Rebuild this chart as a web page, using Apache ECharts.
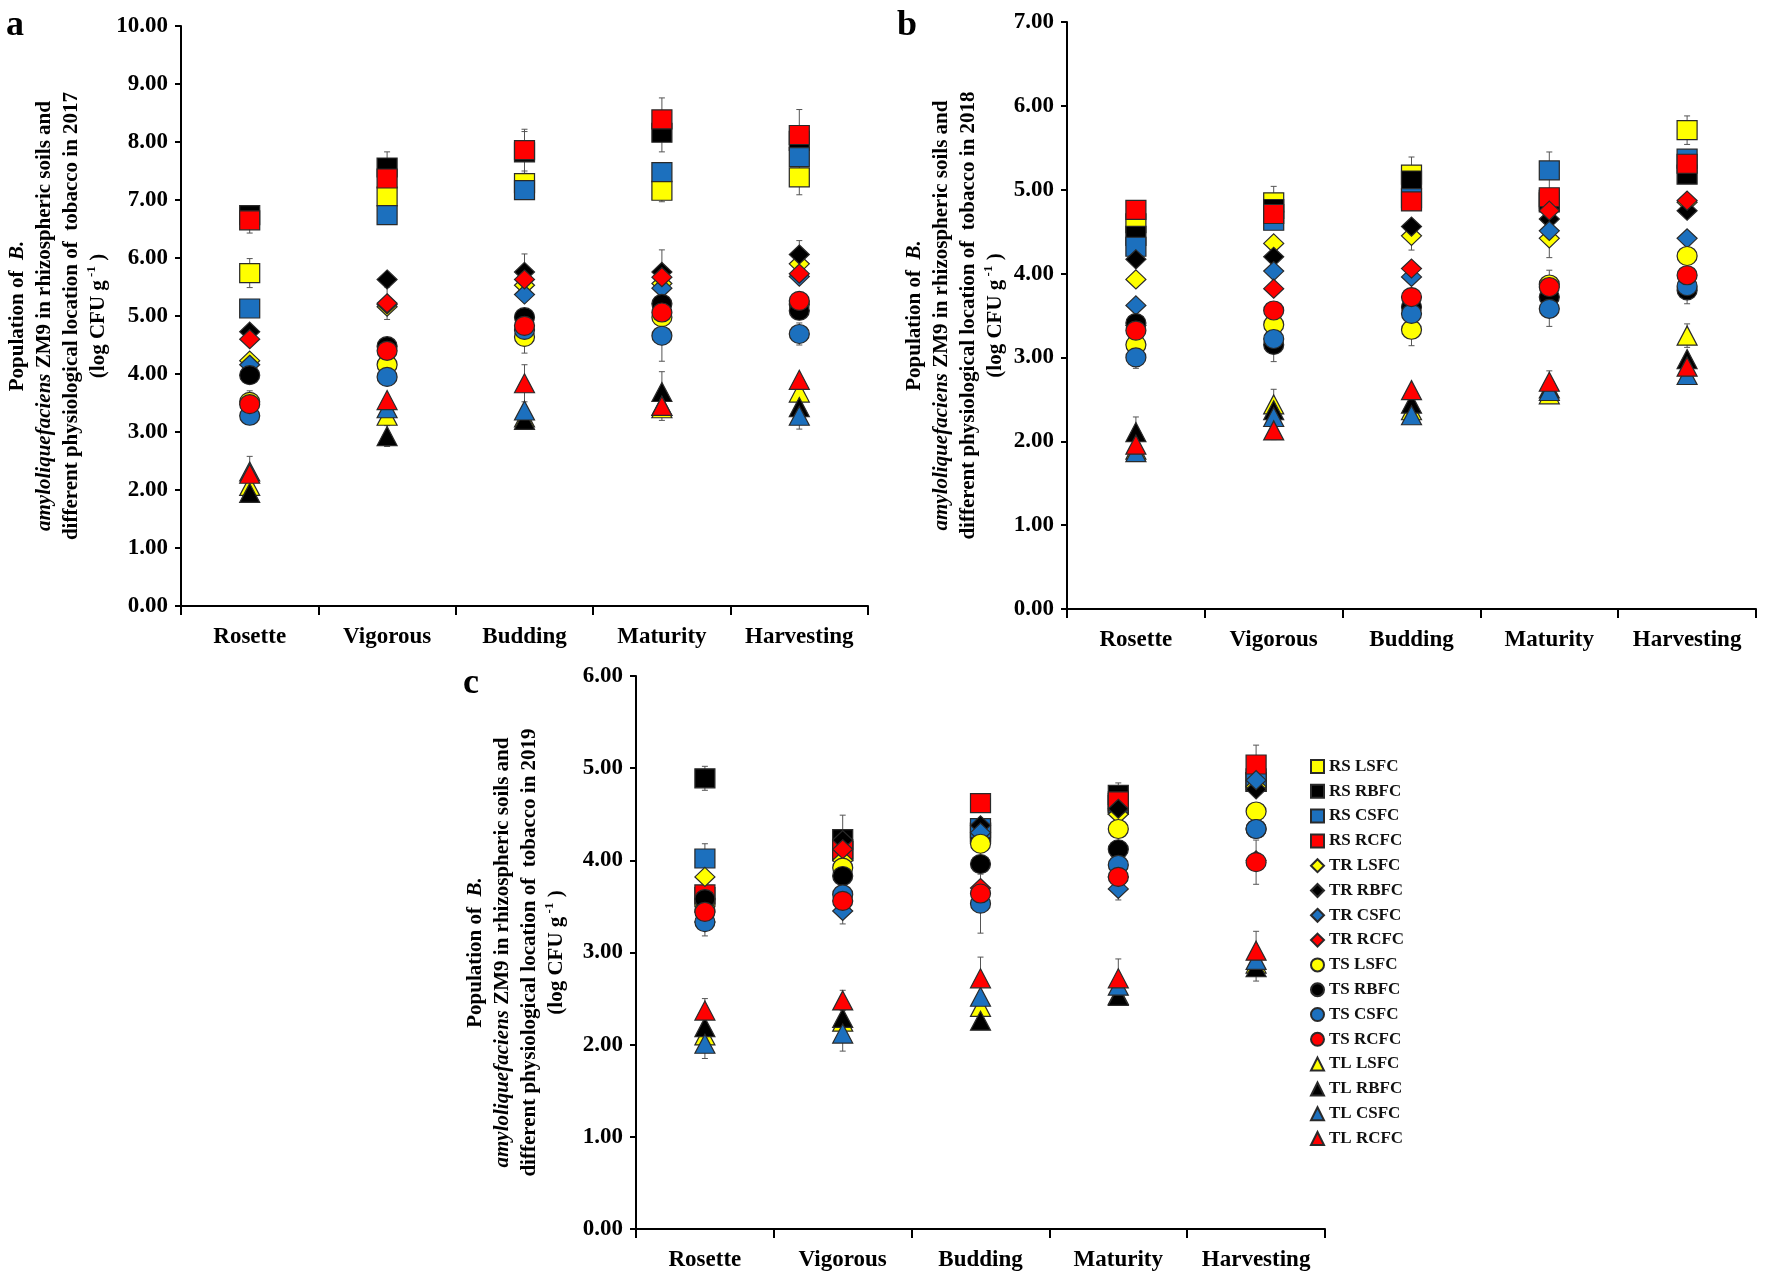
<!DOCTYPE html>
<html><head><meta charset="utf-8">
<script src="https://cdn.jsdelivr.net/npm/echarts@6/dist/echarts.min.js"></script>
<style>html,body{margin:0;padding:0;background:#fff}#chart{width:1770px;height:1283px}</style>
</head><body><div id="chart"></div>
<script>
// ---------- data ----------
const categories = ['Rosette', 'Vigorous', 'Budding', 'Maturity', 'Harvesting'];
const seriesNames = ['RS LSFC','RS RBFC','RS CSFC','RS RCFC','TR LSFC','TR RBFC','TR CSFC','TR RCFC',
                     'TS LSFC','TS RBFC','TS CSFC','TS RCFC','TL LSFC','TL RBFC','TL CSFC','TL RCFC'];
const yTickMax = [10, 7, 6];
const years = ['2017', '2018', '2019'];

// 2017 (panel a)
const RS_LSFC_2017 = [5.74, 7.06, 7.29, 7.16, 7.39];
const RS_RBFC_2017 = [6.74, 7.56, 7.82, 8.16, 8.02];
const RS_CSFC_2017 = [5.13, 6.74, 7.17, 7.48, 7.74];
const RS_RCFC_2017 = [6.65, 7.37, 7.86, 8.39, 8.12];
const TR_LSFC_2017 = [4.23, 5.16, 5.53, 5.56, 5.90];
const TR_RBFC_2017 = [4.73, 5.63, 5.76, 5.76, 6.06];
const TR_CSFC_2017 = [4.16, 5.20, 5.37, 5.48, 5.68];
const TR_RCFC_2017 = [4.60, 5.22, 5.63, 5.67, 5.73];
const TS_LSFC_2017 = [3.52, 4.16, 4.64, 4.98, 5.20];
const TS_RBFC_2017 = [3.98, 4.48, 4.98, 5.21, 5.09];
const TS_CSFC_2017 = [3.28, 3.95, 4.76, 4.66, 4.69];
const TS_RCFC_2017 = [3.48, 4.40, 4.83, 5.06, 5.26];
const TL_LSFC_2017 = [2.07, 3.28, 3.25, 3.41, 3.68];
const TL_RBFC_2017 = [1.95, 2.93, 3.21, 3.69, 3.43];
const TL_CSFC_2017 = [2.32, 3.41, 3.37, 3.45, 3.28];
const TL_RCFC_2017 = [2.28, 3.55, 3.84, 3.45, 3.90];

// 2018 (panel b)
const RS_LSFC_2018 = [4.60, 4.85, 5.18, 4.85, 5.71];
const RS_RBFC_2018 = [4.45, 4.77, 5.11, 4.88, 5.18];
const RS_CSFC_2018 = [4.32, 4.63, 4.90, 5.23, 5.37];
const RS_RCFC_2018 = [4.76, 4.71, 4.86, 4.91, 5.31];
const TR_LSFC_2018 = [3.93, 4.36, 4.45, 4.42, 4.85];
const TR_RBFC_2018 = [4.17, 4.20, 4.56, 4.65, 4.75];
const TR_CSFC_2018 = [3.62, 4.03, 3.96, 4.51, 4.42];
const TR_RCFC_2018 = [3.38, 3.82, 4.06, 4.75, 4.87];
const TS_LSFC_2018 = [3.15, 3.39, 3.33, 3.87, 4.21];
const TS_RBFC_2018 = [3.41, 3.15, 3.60, 3.72, 3.80];
const TS_CSFC_2018 = [3.00, 3.22, 3.52, 3.58, 3.85];
const TS_RCFC_2018 = [3.32, 3.56, 3.72, 3.84, 3.98];
const TL_LSFC_2018 = [1.90, 2.44, 2.37, 2.56, 3.26];
const TL_RBFC_2018 = [2.11, 2.37, 2.45, 2.63, 2.98];
const TL_CSFC_2018 = [1.87, 2.29, 2.31, 2.60, 2.79];
const TL_RCFC_2018 = [1.96, 2.13, 2.61, 2.71, 2.89];

// 2019 (panel c)
const RS_LSFC_2019 = [3.60, 4.10, 4.30, 4.60, 4.85];
const RS_RBFC_2019 = [4.89, 4.23, 4.30, 4.71, 4.85];
const RS_CSFC_2019 = [4.02, 4.10, 4.35, 4.62, 4.89];
const RS_RCFC_2019 = [3.63, 4.12, 4.62, 4.64, 5.04];
const TR_LSFC_2019 = [3.82, 4.00, 4.18, 4.50, 4.80];
const TR_RBFC_2019 = [3.58, 4.22, 4.38, 4.56, 4.77];
const TR_CSFC_2019 = [3.33, 3.45, 4.30, 3.69, 4.87];
const TR_RCFC_2019 = [3.44, 4.12, 3.70, 3.82, 4.00];
const TS_LSFC_2019 = [3.46, 3.92, 4.18, 4.34, 4.53];
const TS_RBFC_2019 = [3.58, 3.83, 3.96, 4.12, 4.34];
const TS_CSFC_2019 = [3.33, 3.63, 3.53, 3.95, 4.34];
const TS_RCFC_2019 = [3.44, 3.56, 3.64, 3.82, 3.98];
const TL_LSFC_2019 = [2.10, 2.25, 2.41, 2.54, 2.88];
const TL_RBFC_2019 = [2.19, 2.29, 2.26, 2.53, 2.84];
const TL_CSFC_2019 = [2.01, 2.12, 2.52, 2.64, 2.92];
const TL_RCFC_2019 = [2.37, 2.48, 2.72, 2.72, 3.02];

// standard errors that show as whiskers: [series, category index, error]
const errors2017 = [
  ['RS RCFC',0,0.22],['RS LSFC',0,0.25],['TL RCFC',0,0.30],['TS LSFC',0,0.19],
  ['RS RBFC',1,0.27],['TR RCFC',1,0.28],['TL RBFC',1,0.18],
  ['RS RCFC',2,0.36],['RS RBFC',2,0.36],['TR RBFC',2,0.31],['TS LSFC',2,0.28],['TL RCFC',2,0.32],
  ['RS RCFC',3,0.37],['RS RBFC',3,0.33],['RS LSFC',3,0.19],['TR RBFC',3,0.38],['TS CSFC',3,0.44],['TL RBFC',3,0.35],['TL LSFC',3,0.21],
  ['RS RCFC',4,0.44],['RS LSFC',4,0.30],['TR RBFC',4,0.24],['TS CSFC',4,0.19],['TL CSFC',4,0.23]
];
const errors2018 = [
  ['TS CSFC',0,0.13],['TL RBFC',0,0.18],
  ['RS LSFC',1,0.19],['TS RBFC',1,0.20],['TL LSFC',1,0.18],['TL RCFC',1,0.11],
  ['RS LSFC',2,0.21],['TR LSFC',2,0.17],['TS LSFC',2,0.19],
  ['RS CSFC',3,0.22],['TR LSFC',3,0.23],['TS LSFC',3,0.17],['TS CSFC',3,0.21],['TL RCFC',3,0.13],
  ['RS LSFC',4,0.17],['TS RBFC',4,0.16],['TL LSFC',4,0.14]
];
const errors2019 = [
  ['RS RBFC',0,0.13],['RS CSFC',0,0.16],['TS CSFC',0,0.15],['TL RCFC',0,0.13],['TL CSFC',0,0.16],
  ['RS RBFC',1,0.26],['TR CSFC',1,0.14],['TL RCFC',1,0.11],['TL CSFC',1,0.19],
  ['TS CSFC',2,0.32],['TL RCFC',2,0.23],
  ['RS RBFC',3,0.13],['TR CSFC',3,0.12],['TL RCFC',3,0.21],
  ['RS RCFC',4,0.21],['TS RCFC',4,0.24],['TL RCFC',4,0.21],['TL RBFC',4,0.15]
];

const panelValues = [
  [RS_LSFC_2017, RS_RBFC_2017, RS_CSFC_2017, RS_RCFC_2017, TR_LSFC_2017, TR_RBFC_2017, TR_CSFC_2017, TR_RCFC_2017,
   TS_LSFC_2017, TS_RBFC_2017, TS_CSFC_2017, TS_RCFC_2017, TL_LSFC_2017, TL_RBFC_2017, TL_CSFC_2017, TL_RCFC_2017],
  [RS_LSFC_2018, RS_RBFC_2018, RS_CSFC_2018, RS_RCFC_2018, TR_LSFC_2018, TR_RBFC_2018, TR_CSFC_2018, TR_RCFC_2018,
   TS_LSFC_2018, TS_RBFC_2018, TS_CSFC_2018, TS_RCFC_2018, TL_LSFC_2018, TL_RBFC_2018, TL_CSFC_2018, TL_RCFC_2018],
  [RS_LSFC_2019, RS_RBFC_2019, RS_CSFC_2019, RS_RCFC_2019, TR_LSFC_2019, TR_RBFC_2019, TR_CSFC_2019, TR_RCFC_2019,
   TS_LSFC_2019, TS_RBFC_2019, TS_CSFC_2019, TS_RCFC_2019, TL_LSFC_2019, TL_RBFC_2019, TL_CSFC_2019, TL_RCFC_2019]
];
const panelErrors = [errors2017, errors2018, errors2019];

// ---------- styles ----------
const FONT = '"Liberation Serif", "Times New Roman", serif';
const symbols = ['rect', 'diamond', 'circle', 'triangle'];           // RS, TR, TS, TL
const colors = ['#FFFF00', '#000000', '#1C70BE', '#FF0000'];         // LSFC, RBFC, CSFC, RCFC

const grids = [
  { left: 181, top: 26, width: 687, height: 580 },
  { left: 1067, top: 22, width: 689, height: 587 },
  { left: 636, top: 676, width: 689, height: 553 }
];
const nameGaps = [60, 58, 66];

function yName(year) {
  return '{b|Population of  }{bi|B.}\n' +
         '{bi|amyloliquefaciens}{b| ZM9 in rhizospheric soils and}\n' +
         '{b|different physiological location of  tobacco in ' + year + '}\n' +
         '{b|(log CFU g}{sup| -1}{b| )}';
}
const txt = { fontFamily: FONT, fontWeight: 'bold', color: '#000' };
const LH = 27, NF = 21;

function errorRender(params, api) {
  const x = api.value(0), lo = api.value(1), hi = api.value(2);
  const a = api.coord([x, hi]), b = api.coord([x, lo]);
  const st = { stroke: '#555', lineWidth: 1 };
  return { type: 'group', children: [
    { type: 'line', shape: { x1: a[0], y1: a[1], x2: b[0], y2: b[1] }, style: st },
    { type: 'line', shape: { x1: a[0] - 3, y1: a[1], x2: a[0] + 3, y2: a[1] }, style: st },
    { type: 'line', shape: { x1: b[0] - 3, y1: b[1], x2: b[0] + 3, y2: b[1] }, style: st }
  ] };
}

const xAxes = [], yAxes = [], series = [];
for (let p = 0; p < 3; p++) {
  xAxes.push({
    type: 'category', gridIndex: p, data: categories, boundaryGap: true,
    axisLine: { show: true, lineStyle: { color: '#000', width: 2 } },
    axisTick: { show: true, interval: 0, length: 9, lineStyle: { color: '#000', width: 2 } },
    axisLabel: Object.assign({ fontSize: 23, margin: 20, interval: 0, hideOverlap: false }, txt),
    splitLine: { show: false }
  });
  yAxes.push({
    type: 'value', gridIndex: p, min: 0, max: yTickMax[p], interval: 1,
    axisLine: { show: true, lineStyle: { color: '#000', width: 2 } },
    axisTick: { show: true, length: 6, lineStyle: { color: '#000', width: 2 } },
    axisLabel: Object.assign({ fontSize: 23, margin: 13, formatter: v => v.toFixed(2) }, txt),
    splitLine: { show: false },
    name: yName(years[p]), nameLocation: 'middle', nameRotate: 90, nameGap: nameGaps[p],
    nameTextStyle: Object.assign({ fontSize: NF, lineHeight: LH, align: 'center',
      rich: {
        b: Object.assign({ fontSize: NF, lineHeight: LH }, txt),
        bi: Object.assign({ fontSize: NF, lineHeight: LH, fontStyle: 'italic' }, txt),
        sup: Object.assign({ fontSize: 13, lineHeight: LH, verticalAlign: 'top', padding: [0, 0, 10, 0] }, txt)
      } }, txt)
  });
  // error bars (drawn first, behind the markers)
  series.push({
    type: 'custom', name: 'SE ' + years[p], xAxisIndex: p, yAxisIndex: p,
    renderItem: errorRender, silent: true, animation: false,
    encode: { x: 0, y: [1, 2] },
    data: panelErrors[p].map(e => {
      const v = panelValues[p][seriesNames.indexOf(e[0])][e[1]];
      return [e[1], v - e[2], v + e[2]];
    })
  });
  for (let k = 0; k < 16; k++) {
    series.push({
      type: 'scatter', name: seriesNames[k], xAxisIndex: p, yAxisIndex: p,
      data: panelValues[p][k],
      symbol: symbols[Math.floor(k / 4)], symbolSize: [20, 19],
      itemStyle: { color: colors[k % 4], borderColor: '#2a2a2a', borderWidth: 1.2, opacity: 1 },
      emphasis: { disabled: true }, animation: false
    });
  }
}

const chart = echarts.init(document.getElementById('chart'), null, { renderer: 'canvas' });
chart.setOption({
  backgroundColor: '#fff',
  animation: false,
  title: [
    { text: 'a', left: 6, top: 8, padding: 0, textStyle: Object.assign({ fontSize: 36 }, txt) },
    { text: 'b', left: 897, top: 8, padding: 0, textStyle: Object.assign({ fontSize: 36 }, txt) },
    { text: 'c', left: 463, top: 666, padding: 0, textStyle: Object.assign({ fontSize: 36 }, txt) }
  ],
  grid: grids,
  xAxis: xAxes,
  yAxis: yAxes,
  legend: {
    data: seriesNames, orient: 'vertical', left: 1310, top: 758,
    itemWidth: 13, itemHeight: 13, itemGap: 7.8, padding: 0,
    selectedMode: false,
    textStyle: Object.assign({ fontSize: 17 }, txt, { color: '#111' })
  },
  series: series
});
</script></body></html>
